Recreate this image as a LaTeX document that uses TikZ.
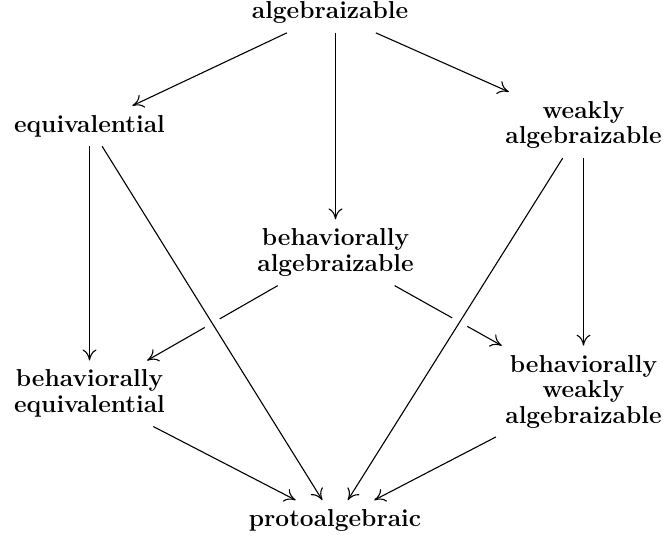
\documentclass[tikz,border=0pt]{standalone}
\usetikzlibrary{arrows.meta}

\begin{document}
\begin{tikzpicture}[
    x=0.5pt, y=-0.5pt,
    mynode/.style={inner sep=4.5pt, align=center, font=\fontsize{12.25}{12.75}\selectfont\bfseries},
    myarrow/.style={->, >={To[length=5.5pt, width=7pt]}, line width=0.55pt},
    mygap/.style={preaction={draw=white, line width=8.5pt, -}},
]
\useasboundingbox (0,0) rectangle (664,537);

\node[mynode] (alg) at (330,12.5) {algebraizable};
\node[mynode] (eq) at (89.5,126) {equivalential};
\node[mynode] (walg) at (583.5,125) {weakly\\algebraizable};
\node[mynode] (balg) at (335.5,252.5) {behaviorally\\algebraizable};
\node[mynode] (beq) at (89.5,393.5) {behaviorally\\equivalential};
\node[mynode] (bwalg) at (583.5,391.5) {behaviorally\\weakly\\algebraizable};
\node[mynode] (proto) at (335,520.5) {protoalgebraic};

% these two go under the long diagonals
\draw[myarrow] (balg) -- (beq);
\draw[myarrow] (balg) -- (bwalg);

\draw[myarrow, mygap] (eq) -- (proto);
\draw[myarrow, mygap] (walg) -- (proto);

\draw[myarrow] (alg) -- (eq);
\draw[myarrow] (balg.north |- alg.south) -- (balg.north);
\draw[myarrow] (alg) -- (walg);
\draw[myarrow] (eq) -- (beq);
\draw[myarrow] (walg) -- (bwalg);
\draw[myarrow] (beq) -- (proto);
\draw[myarrow] (bwalg) -- (proto);
\end{tikzpicture}
\end{document}
